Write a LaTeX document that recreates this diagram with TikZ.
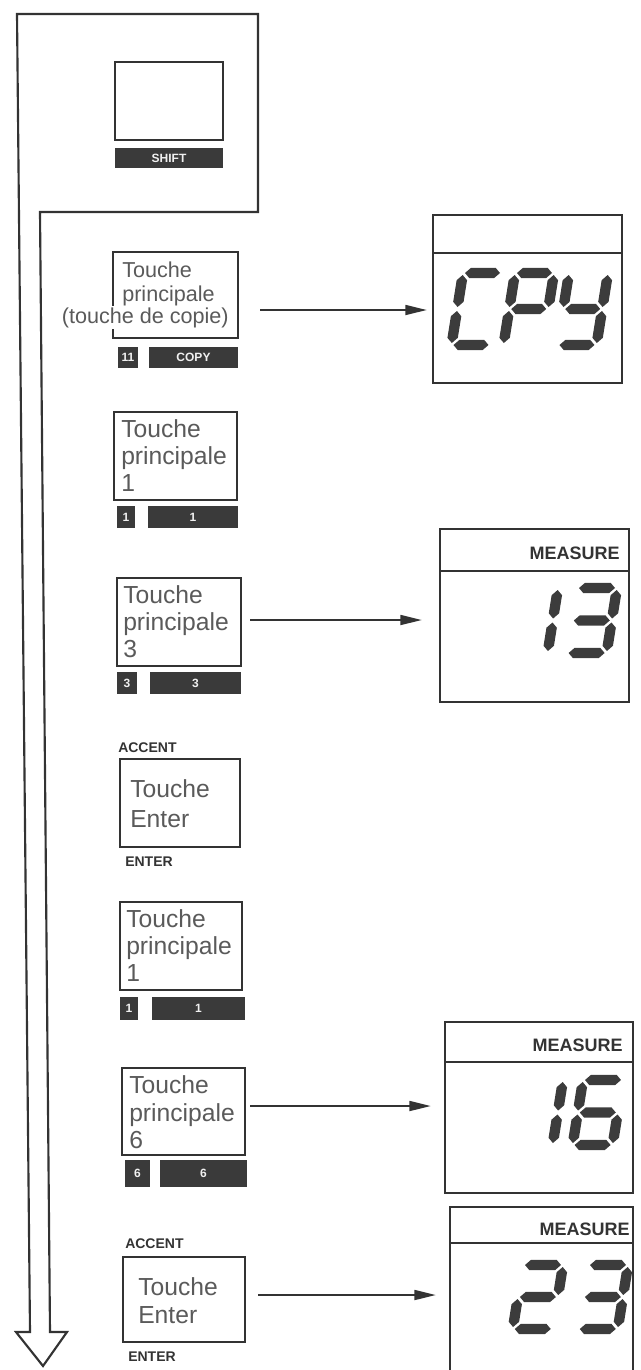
\documentclass[tikz,border=0pt]{standalone}
\usepackage{fontspec}
\setmainfont{Liberation Sans}
\usetikzlibrary{arrows.meta,fit}
\definecolor{ink}{HTML}{333333}
\definecolor{txt}{HTML}{5A5A5A}
\definecolor{barc}{HTML}{3A3A3A}
\definecolor{segcol}{HTML}{3C3C3C}
\newcommand\segT{5.2}
\newcommand\segG{2}
\newcommand\hsg[3]{\fill[segcol] ({#1},{#3}) -- ({#1+\segT},{#3-\segT}) -- ({#2-\segT},{#3-\segT}) -- ({#2},{#3}) -- ({#2-\segT},{#3+\segT}) -- ({#1+\segT},{#3+\segT}) -- cycle;}
\newcommand\vsg[3]{\fill[segcol] ({#1},{#2}) -- ({#1+\segT},{#2+\segT}) -- ({#1+\segT},{#3-\segT}) -- ({#1},{#3}) -- ({#1-\segT},{#3-\segT}) -- ({#1-\segT},{#2+\segT}) -- cycle;}
\newcommand\SegA{\hsg{\segG}{\dW-\segG}{0}}
\newcommand\SegG{\hsg{\segG}{\dW-\segG}{\dH/2}}
\newcommand\SegD{\hsg{\segG}{\dW-\segG}{\dH}}
\newcommand\SegF{\vsg{0}{\segG}{\dH/2-\segG}}
\newcommand\SegE{\vsg{0}{\dH/2+\segG}{\dH-\segG}}
\newcommand\SegB{\vsg{\dW}{\segG}{\dH/2-\segG}}
\newcommand\SegC{\vsg{\dW}{\dH/2+\segG}{\dH-\segG}}
\newcommand\segdigit[5]{\begin{scope}[shift={(#1,#2)},xslant=0.16]\def\dW{#3}\def\dH{#4}#5\end{scope}}
\tikzset{
 flow/.style={draw=ink, line width=1.6pt, line join=miter},
 keybox/.style={draw=ink, line width=1.4pt, inner sep=0pt},
 bar/.style={fill=barc, inner sep=0pt},
 barlbl/.style={text=white!88!gray, font=\bfseries\fontsize{9}{10}\selectfont, inner sep=0pt},
 keytxt/.style={anchor=base west, text=txt, inner sep=0pt, font=\fontsize{18.5}{20}\selectfont},
 keytxtsm/.style={anchor=base west, text=txt, inner sep=0pt, font=\fontsize{16.2}{18}\selectfont},
 caplbl/.style={anchor=west, text=ink, inner sep=0pt, font=\bfseries\fontsize{10.5}{12}\selectfont},
 meas/.style={anchor=east, text=ink, inner sep=0pt, font=\bfseries\fontsize{13.5}{14}\selectfont},
 disp/.style={draw=ink, line width=1.4pt, inner sep=0pt},
 conn/.style={draw=ink, line width=1.3pt, -{Triangle[length=16pt,width=7.5pt]}},
}
\begin{document}
\begin{tikzpicture}[x=0.75pt,y=-0.75pt]
\useasboundingbox (0,0) rectangle (640,1370);
% big flow arrow
\draw[flow] (17,14) -- (258,14) -- (258,212) -- (40,212) -- (50,1332) -- (67,1332) -- (43,1366) -- (16,1332) -- (30,1332) -- cycle;

% key 1 : SHIFT
\node[keybox, fit={(115,62) (223,140)}] (k1) {};
\node[bar, fit={(115,148) (223,168)}] (k1b) {};
\node[barlbl] (k1bl) at (k1b.center) {SHIFT};

% key 2 : COPY
\node[keybox, fit={(113,252) (238,338)}] (k2) {};
\node[keytxtsm] (k2t1) at (122,277) {Touche};
\node[keytxtsm] (k2t2) at (122,301) {principale};
\node[keytxtsm, anchor=base east, fill=white, inner ysep=1pt] (k2t3) at (229,323) {(touche de copie)};
\node[bar, fit={(118,347) (138,368)}] (k2s) {};
\node[barlbl] (k2sl) at (k2s.center) {11};
\node[bar, fit={(149,347) (238,368)}] (k2b) {};
\node[barlbl] (k2bl) at (k2b.center) {COPY};

% key 3 : 1
\node[keybox, fit={(114,412) (237,500)}] (k3) {};
\node[keytxt] (k3t1) at (121,437) {Touche};
\node[keytxt] (k3t2) at (121,464) {principale};
\node[keytxt] (k3t3) at (121,491) {1};
\node[bar, fit={(117,506) (135,528)}] (k3s) {};
\node[barlbl] (k3sl) at (k3s.center) {1};
\node[bar, fit={(148,506) (238,528)}] (k3b) {};
\node[barlbl] (k3bl) at (k3b.center) {1};

% key 4 : 3
\node[keybox, fit={(117,578) (241,666)}] (k4) {};
\node[keytxt] (k4t1) at (123,603) {Touche};
\node[keytxt] (k4t2) at (123,630) {principale};
\node[keytxt] (k4t3) at (123,657) {3};
\node[bar, fit={(117,672) (137,694)}] (k4s) {};
\node[barlbl] (k4sl) at (k4s.center) {3};
\node[bar, fit={(150,672) (241,694)}] (k4b) {};
\node[barlbl] (k4bl) at (k4b.center) {3};

% key 5 : Enter
\node[caplbl] (k5a) at (118,748) {ACCENT};
\node[keybox, fit={(120,759) (240,847)}] (k5) {};
\node[keytxt] (k5t1) at (130,797) {Touche};
\node[keytxt] (k5t2) at (130,827) {Enter};
\node[caplbl] (k5e) at (125,862) {ENTER};

% key 6 : 1
\node[keybox, fit={(120,902) (242,990)}] (k6) {};
\node[keytxt] (k6t1) at (126,927) {Touche};
\node[keytxt] (k6t2) at (126,954) {principale};
\node[keytxt] (k6t3) at (126,981) {1};
\node[bar, fit={(120,997) (138,1020)}] (k6s) {};
\node[barlbl] (k6sl) at (k6s.center) {1};
\node[bar, fit={(152,997) (245,1020)}] (k6b) {};
\node[barlbl] (k6bl) at (k6b.center) {1};

% key 7 : 6
\node[keybox, fit={(122,1068) (245,1155)}] (k7) {};
\node[keytxt] (k7t1) at (129,1093) {Touche};
\node[keytxt] (k7t2) at (129,1121) {principale};
\node[keytxt] (k7t3) at (129,1148) {6};
\node[bar, fit={(125,1160) (150,1187)}] (k7s) {};
\node[barlbl] (k7sl) at (k7s.center) {6};
\node[bar, fit={(160,1160) (247,1187)}] (k7b) {};
\node[barlbl] (k7bl) at (k7b.center) {6};

% key 8 : Enter
\node[caplbl] (k8a) at (125,1244) {ACCENT};
\node[keybox, fit={(123,1257) (245,1342)}] (k8) {};
\node[keytxt] (k8t1) at (138,1295) {Touche};
\node[keytxt] (k8t2) at (138,1323) {Enter};
\node[caplbl] (k8e) at (128,1357) {ENTER};

% displays
\node[disp, fit={(433,215) (622,383)}] (d1) {};
\draw[disp] (d1.west |- 0,253) -- (d1.east |- 0,253);
\segdigit{463}{273}{39}{72}{\SegA\SegF\SegE\SegD}
\segdigit{515}{273}{39}{72}{\SegA\SegB\SegF\SegG\SegE}
\segdigit{569}{273}{39}{72}{\SegB\SegF\SegG\SegC\SegD}

\node[disp, fit={(440,529) (629,702)}] (d2) {};
\draw[disp] (d2.west |- 0,571) -- (d2.east |- 0,571);
\node[meas] (d2m) at (620,553) {MEASURE};
\segdigit{518}{588}{40}{65}{\SegB\SegC}
\segdigit{577}{588}{40}{65}{\SegA\SegB\SegG\SegC\SegD}

\node[disp, fit={(445,1022) (633,1193)}] (d3) {};
\draw[disp] (d3.west |- 0,1062) -- (d3.east |- 0,1062);
\node[meas] (d3m) at (623,1045) {MEASURE};
\segdigit{523}{1080}{40}{65}{\SegB\SegC}
\segdigit{583}{1080}{40}{65}{\SegA\SegF\SegG\SegE\SegC\SegD}

\node[disp, fit={(450,1207) (633,1390)}] (d4) {};
\draw[disp] (d4.west |- 0,1243) -- (d4.east |- 0,1243);
\node[meas] (d4m) at (630,1229) {MEASURE};
\segdigit{523}{1265}{40}{64}{\SegA\SegB\SegG\SegE\SegD}
\segdigit{588}{1265}{40}{64}{\SegA\SegB\SegG\SegC\SegD}

% connectors
\coordinate (a1s) at (260,310);
\coordinate (a2s) at (250,620);
\coordinate (a3s) at (250,1106);
\coordinate (a4s) at (258,1295);
\draw[conn, shorten >=4pt] (a1s) -- (a1s -| d1.west);
\draw[conn, shorten >=13pt] (a2s) -- (a2s -| d2.west);
\draw[conn, shorten >=10pt] (a3s) -- (a3s -| d3.west);
\draw[conn, shorten >=10pt] (a4s) -- (a4s -| d4.west);
\end{tikzpicture}
\end{document}
